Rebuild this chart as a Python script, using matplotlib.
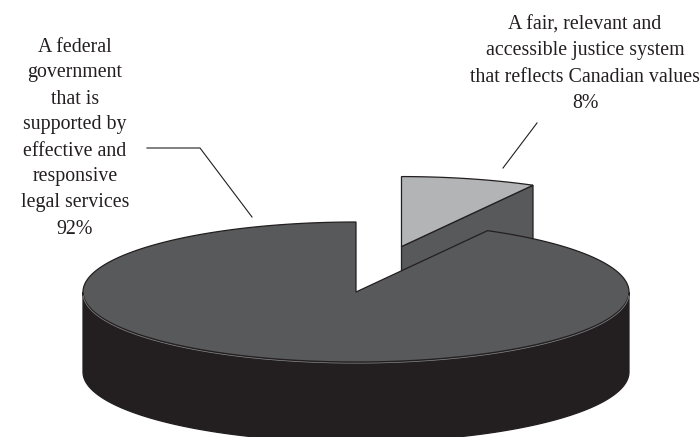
import numpy as np
import matplotlib.pyplot as plt
from matplotlib.patches import Polygon

labels = [
    "A federal\ngovernment\nthat is\nsupported by\neffective and\nresponsive\nlegal services",
    "A fair, relevant and\naccessible justice system\nthat reflects Canadian values",
]
values = [92, 8]
top_colors = ["#58595b", "#b3b4b6"]
side_color = "#231f20"
edge = "#231f20"

# pie geometry in pixel space
cx, cy = 356, 292
rx, ry = 273, 70
depth = 80
explode = [0, 0.67]
start = 90  # first slice runs counter-clockwise from the back


def rim(theta_deg, ox=0, oy=0, dz=0):
    t = np.radians(theta_deg)
    return np.column_stack([ox + cx + rx * np.cos(t), oy + cy - ry * np.sin(t) + dz])


def draw():
    fig = plt.figure(figsize=(7, 4.37), dpi=100)
    ax = fig.add_axes([0, 0, 1, 1])
    ax.set_xlim(0, 700)
    ax.set_ylim(437, 0)
    ax.axis("off")

    total = sum(values)
    spans = [v / total * 360 for v in values]
    # big slice: 90 -> 90+331.2 ; small slice: 61.2 -> 90
    big_a0, big_a1 = start, start + spans[0]
    sm_a0, sm_a1 = start - spans[1], start
    mid = np.radians((sm_a0 + sm_a1) / 2)
    ox = explode[1] * rx * np.cos(mid)
    oy = -explode[1] * ry * np.sin(mid)

    # small slice (behind): cut face along its first radius, then top
    c = np.array([[cx + ox, cy + oy]])
    p = rim(sm_a0, ox, oy)
    face = np.vstack([c, p, p + [0, depth], c + [0, depth]])
    ax.add_patch(Polygon(face, closed=True, fc=top_colors[0], ec=edge, lw=0.9, zorder=1))
    th = np.linspace(sm_a0, sm_a1, 60)
    top = np.vstack([c, rim(th, ox, oy)])
    ax.add_patch(Polygon(top, closed=True, fc=top_colors[1], ec=edge, lw=0.9, zorder=2))

    # big slice: visible front wall then top
    th = np.linspace(180, 360, 200)
    wall = np.vstack([rim(th), rim(th[::-1], dz=depth)])
    ax.add_patch(Polygon(wall, closed=True, fc=side_color, ec=edge, lw=0.9, zorder=3))
    th = np.linspace(big_a0, big_a1, 400)
    top = np.vstack([[[cx, cy]], rim(th)])
    ax.add_patch(Polygon(top, closed=True, fc=top_colors[0], ec=edge, lw=0.9, zorder=4))
    # faint highlight where top meets wall
    fr = rim(np.linspace(182, 358, 200))
    ax.plot(fr[:, 0], fr[:, 1] + 1.2, color="#8a8b8d", lw=0.5, zorder=5)

    font = dict(family="Liberation Serif", fontsize=14.3, color="#231f20",
                ha="center", va="center", linespacing=1.5)
    pct = [f"{v}%" for v in values]
    ax.text(75, 138, labels[0] + "\n" + pct[0], **font)
    ax.text(585, 64, labels[1] + "\n" + pct[1], **font)

    # leader lines
    ax.plot([147, 200, 252], [148, 148, 217], color=edge, lw=0.8)
    ax.plot([537, 503], [123, 168], color=edge, lw=0.8)

    fig.savefig("out.png", dpi=100)


if __name__ == "__main__":
    draw()
